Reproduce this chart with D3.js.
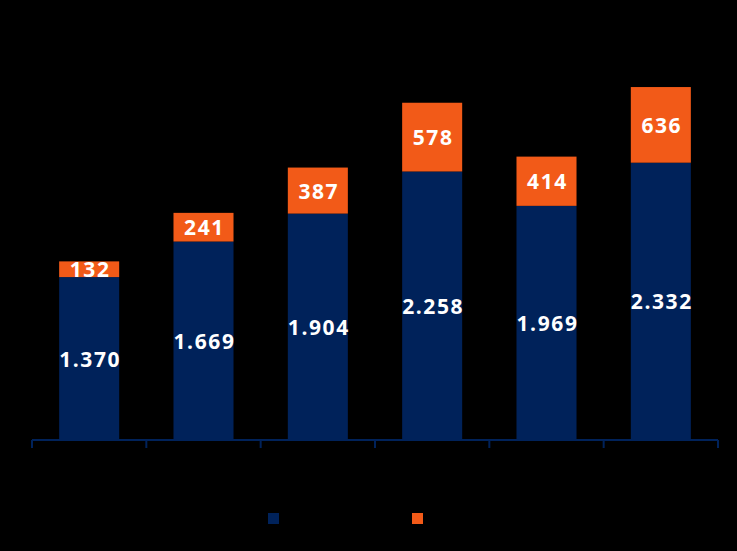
<!DOCTYPE html>
<html>
<head>
<meta charset="utf-8">
<script src="https://cdn.jsdelivr.net/npm/d3@7"></script>
<style>
  html, body { margin: 0; padding: 0; background: #000; }
  #chart { width: 737px; height: 551px; }
  .lbl { font-family: "Open Sans", sans-serif; font-weight: bold; font-size: 21px; fill: #fff; letter-spacing: 1.6px; }
</style>
</head>
<body>
<div id="chart"></div>
<script>
var categories = ["1", "2", "3", "4", "5", "6"]
var baseValues = [1370, 1669, 1904, 2258, 1969, 2332]
var topValues = [132, 241, 387, 578, 414, 636]
var colors = ["#00225a", "#f25a18"]

var width = 737, height = 551
var svg = d3.select("#chart")
            .append("svg")
            .attr("width", width)
            .attr("height", height)

svg.append("rect")
   .attr("width", width)
   .attr("height", height)
   .attr("fill", "#000")

var x = d3.scaleBand()
          .domain(categories)
          .range([32, 718])
          .paddingInner(0.475)
          .paddingOuter(0.2375)

var y = d3.scaleLinear()
          .domain([0, 3700])
          .range([440, 0])

var data = categories.map(function (c, i) {
    return { cat: c, base: baseValues[i], top: topValues[i] }
})

var bars = svg.selectAll(".bar")
              .data(data)
              .enter().append("g")
              .attr("class", "bar")

bars.append("rect")
    .attr("x", function (d) { return x(d.cat) })
    .attr("width", x.bandwidth())
    .attr("y", function (d) { return y(d.base) })
    .attr("height", function (d) { return y(0) - y(d.base) })
    .attr("fill", colors[0])

bars.append("rect")
    .attr("x", function (d) { return x(d.cat) })
    .attr("width", x.bandwidth())
    .attr("y", function (d) { return y(d.base + d.top) })
    .attr("height", function (d) { return y(d.base) - y(d.base + d.top) })
    .attr("fill", colors[1])

var fmt = function (v) { return d3.format(",")(v).replace(",", ".") }

bars.append("text")
    .attr("class", "lbl")
    .attr("x", function (d) { return x(d.cat) + x.bandwidth() / 2 + 1 })
    .attr("y", function (d) { return (y(0) + y(d.base)) / 2 })
    .attr("text-anchor", "middle")
    .attr("dominant-baseline", "central")
    .text(function (d) { return fmt(d.base) })

bars.append("text")
    .attr("class", "lbl")
    .attr("x", function (d) { return x(d.cat) + x.bandwidth() / 2 + 1 })
    .attr("y", function (d) { return (y(d.base) + y(d.base + d.top)) / 2 })
    .attr("text-anchor", "middle")
    .attr("dominant-baseline", "central")
    .text(function (d) { return d.top })

// x axis: line with ticks between the categories
var axis = svg.append("g")
axis.append("line")
    .attr("x1", 32).attr("x2", 718)
    .attr("y1", 440).attr("y2", 440)
    .attr("stroke", colors[0])
    .attr("stroke-width", 2)

var tickPos = categories.map(function (c) { return x(c) - x.step() * x.paddingInner() / 2 })
tickPos.push(718)
axis.selectAll(".tick")
    .data(tickPos)
    .enter().append("line")
    .attr("x1", function (d) { return d }).attr("x2", function (d) { return d })
    .attr("y1", 440).attr("y2", 448)
    .attr("stroke", colors[0])
    .attr("stroke-width", 2)

// legend squares
var legend = svg.selectAll(".legend")
                .data(colors)
                .enter().append("g")
                .attr("class", "legend")
                .attr("transform", function (d, i) {
                    return "translate(" + (268 + i * 144) + ",513)"
                })

legend.append("rect")
      .attr("width", 11)
      .attr("height", 11)
      .style("fill", function (d) { return d })
</script>
</body>
</html>
